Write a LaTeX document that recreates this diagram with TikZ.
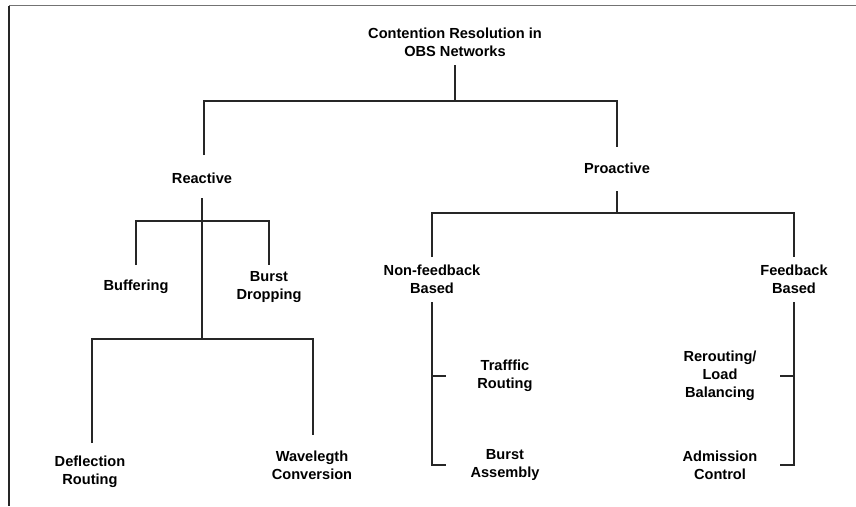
\documentclass[tikz,border=0pt]{standalone}
\usepackage{fontspec}
\setmainfont{Liberation Sans}
\begin{document}
\begin{tikzpicture}[x=1pt, y=-1pt,
  lbl/.style={font=\bfseries\fontsize{14.6}{18}\selectfont, align=center, inner sep=0pt, text=black},
  conn/.style={line width=1.1pt, draw=black!85},
  frame/.style={line width=1.5pt}]
\useasboundingbox (0,0) rectangle (856,506);

% page frame: top and left rules
\coordinate (frameTL) at (9,5.5);
\coordinate (frameTR) at (856,5.5);
\coordinate (frameBL) at (9,506);
\draw[frame, draw=black!55] (frameTL) -- (frameTR);
\draw[frame, draw=black!85] (frameTL) -- (frameBL);

% labels
\node[lbl] (root)  at (455,42.5) {Contention Resolution in\\OBS Networks};
\node[lbl] (reac)  at (202,178) {Reactive};
\node[lbl] (proa)  at (617,168) {Proactive};
\node[lbl] (buf)   at (136,287) {Buffering};
\node[lbl] (drop)  at (269,287) {Burst\\Dropping};
\node[lbl] (defl)  at (90,472) {Deflection\\Routing};
\node[lbl] (wave)  at (312,465) {Wavelegth\\Conversion};
\node[lbl] (nonfb) at (432,279) {Non-feedback\\Based};
\node[lbl] (fb)    at (794,279) {Feedback\\Based};
\node[lbl] (traf)  at (505,376) {Trafffic\\Routing};
\node[lbl] (assem) at (505,465) {Burst\\Assembly};
\node[lbl] (rer)   at (720,376) {Rerouting/\\Load\\Balancing};
\node[lbl] (adm)   at (720,465) {Admission\\Control};

% connector end points
\coordinate (root-s)  at (455,65);
\coordinate (root-j)  at (455,101);
\coordinate (reac-n)  at (204,155);
\coordinate (proa-n)  at (617,147);
\coordinate (reac-s)  at (202,198);
\coordinate (reac-j1) at (202,221);
\coordinate (reac-j2) at (202,339);
\coordinate (buf-n)   at (136,265);
\coordinate (drop-n)  at (269,265);
\coordinate (defl-n)  at (92,443);
\coordinate (wave-n)  at (313,435);
\coordinate (proa-s)  at (617,191);
\coordinate (proa-j)  at (617,213);
\coordinate (nonfb-n) at (432,257);
\coordinate (fb-n)    at (794,257);
\coordinate (nonfb-s) at (432,302);
\coordinate (fb-s)    at (794,302);
\coordinate (traf-w)  at (446,376);
\coordinate (assem-w) at (446,465);
\coordinate (rer-e)   at (780,376);
\coordinate (adm-e)   at (780,465);

% root level
\draw[conn] (root-s) -- (root-j);
\draw[conn] (reac-n) |- (root-j) -| (proa-n);

% reactive branch
\draw[conn] (reac-s) -- (reac-j2);
\draw[conn] (buf-n) |- (reac-j1) -| (drop-n);
\draw[conn] (defl-n) |- (reac-j2) -| (wave-n);

% proactive branch
\draw[conn] (proa-s) -- (proa-j);
\draw[conn] (nonfb-n) |- (proa-j) -| (fb-n);

% non-feedback bracket
\draw[conn] (nonfb-s) |- (assem-w);
\draw[conn] (nonfb-s |- traf-w) -- (traf-w);

% feedback bracket
\draw[conn] (fb-s) |- (adm-e);
\draw[conn] (fb-s |- rer-e) -- (rer-e);
\end{tikzpicture}
\end{document}
